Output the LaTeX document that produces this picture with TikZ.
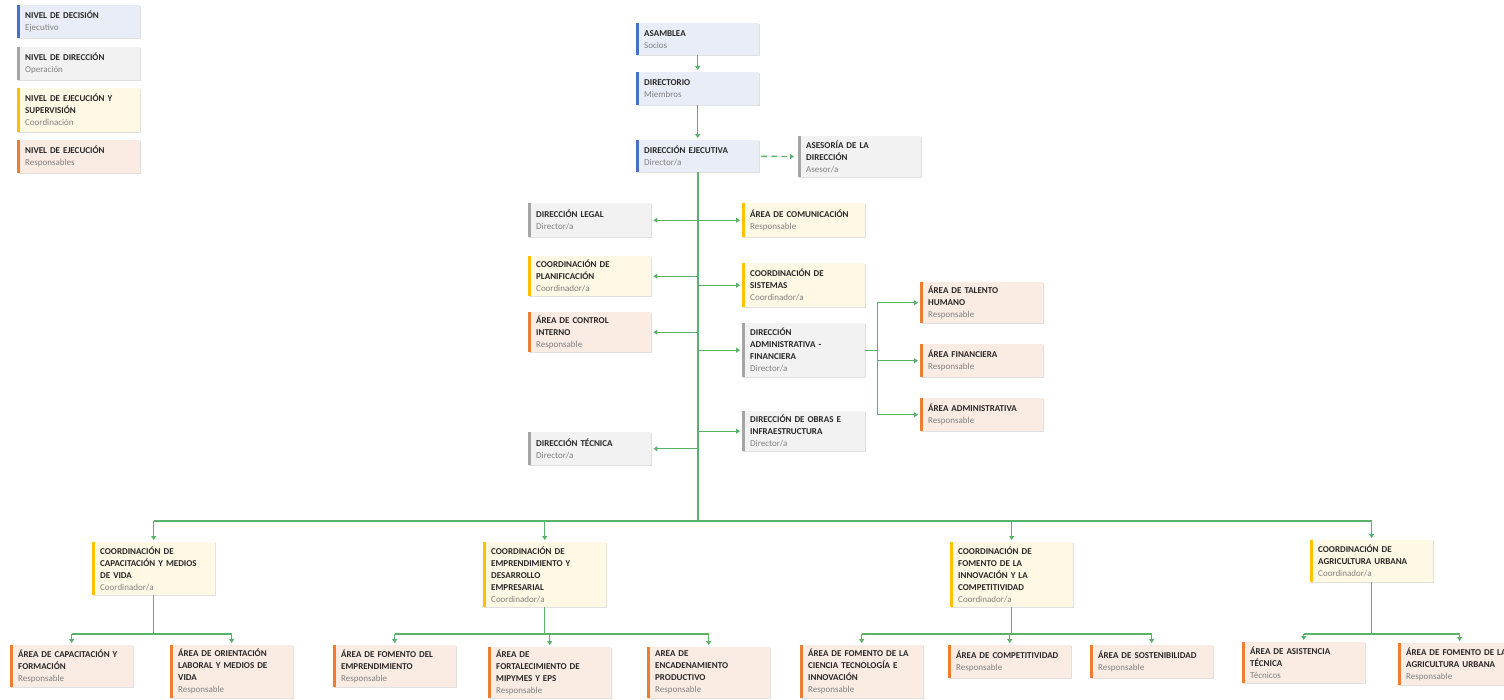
\documentclass[tikz,border=0pt]{standalone}
\usepackage{fontspec}
\setmainfont{Carlito}
\usetikzlibrary{arrows.meta,shadows}
\begin{document}
\begin{tikzpicture}[x=1pt,y=1pt]
\definecolor{decfill}{RGB}{232,237,247}
\definecolor{decbar}{RGB}{68,114,196}
\definecolor{dirfill}{RGB}{242,242,242}
\definecolor{dirbar}{RGB}{165,165,165}
\definecolor{supfill}{RGB}{255,248,229}
\definecolor{supbar}{RGB}{255,192,0}
\definecolor{exefill}{RGB}{251,236,227}
\definecolor{exebar}{RGB}{237,125,49}
\definecolor{linkgreen}{RGB}{88,178,104}
\definecolor{titlegray}{RGB}{40,40,40}
\definecolor{subgray}{RGB}{128,128,128}
\tikzstyle{orgbox}=[anchor=north west,inner xsep=8pt,inner ysep=2pt,text width=107pt,align=left,font=\fontsize{9}{12}\selectfont,text=titlegray,general shadow={fill=black,opacity=0.12,shadow xshift=0.8pt,shadow yshift=-0.8pt}]
\tikzstyle{decision}=[orgbox,fill=decfill,path picture={\fill[decbar] (path picture bounding box.north west) rectangle ([xshift=3pt]path picture bounding box.south west);}]
\tikzstyle{direction}=[orgbox,fill=dirfill,path picture={\fill[dirbar] (path picture bounding box.north west) rectangle ([xshift=3pt]path picture bounding box.south west);}]
\tikzstyle{supervision}=[orgbox,fill=supfill,path picture={\fill[supbar] (path picture bounding box.north west) rectangle ([xshift=3pt]path picture bounding box.south west);}]
\tikzstyle{execution}=[orgbox,fill=exefill,path picture={\fill[exebar] (path picture bounding box.north west) rectangle ([xshift=3pt]path picture bounding box.south west);}]
\tikzstyle{link}=[linkgreen,line width=1.4pt]
\tikzstyle{trunk}=[linkgreen,line width=2pt]
\tikzstyle{arrow}=[link,-{Triangle[width=5pt,length=4pt]},shorten >=2pt]
\tikzstyle{advice}=[arrow,dash pattern=on 6pt off 4pt,shorten >=4pt,shorten <=2pt]
\newcommand{\orgtext}[2]{{\bfseries #1}\\\textcolor{subgray}{#2}}
\useasboundingbox (0,0) rectangle (1504,-699);
% legend
\node[decision,minimum height=33] (leg1) at (17,-5) {\orgtext{NIVEL DE DECISIÓN}{Ejecutivo}};
\node[direction,minimum height=33] (leg2) at (17,-47) {\orgtext{NIVEL DE DIRECCIÓN}{Operación}};
\node[supervision,minimum height=44] (leg3) at (17,-88) {\orgtext{NIVEL DE EJECUCIÓN Y\\SUPERVISIÓN}{Coordinación}};
\node[execution,minimum height=33] (leg4) at (17,-140) {\orgtext{NIVEL DE EJECUCIÓN}{Responsables}};
% top
\node[decision,minimum height=32] (asamblea) at (636,-23) {\orgtext{ASAMBLEA}{Socios}};
\node[decision,minimum height=33] (directorio) at (636,-72) {\orgtext{DIRECTORIO}{Miembros}};
\node[decision,minimum height=32] (ejecutiva) at (636,-140) {\orgtext{DIRECCIÓN EJECUTIVA}{Director/a}};
\node[direction,minimum height=41] (asesoria) at (798,-136) {\orgtext{ASESORÍA DE LA\\DIRECCIÓN}{Asesor/a}};
% left side
\node[direction,minimum height=34] (legal) at (528,-203) {\orgtext{DIRECCIÓN LEGAL}{Director/a}};
\node[supervision,minimum height=40] (planificacion) at (528,-256) {\orgtext{COORDINACIÓN DE\\PLANIFICACIÓN}{Coordinador/a}};
\node[execution,minimum height=40] (control) at (528,-312) {\orgtext{ÁREA DE CONTROL\\INTERNO}{Responsable}};
\node[direction,minimum height=33] (tecnica) at (528,-432) {\orgtext{DIRECCIÓN TÉCNICA}{Director/a}};
% right side
\node[supervision,minimum height=34] (comunicacion) at (742,-203) {\orgtext{ÁREA DE COMUNICACIÓN}{Responsable}};
\node[supervision,minimum height=44] (sistemas) at (742,-263) {\orgtext{COORDINACIÓN DE\\SISTEMAS}{Coordinador/a}};
\node[direction,minimum height=54] (admfin) at (742,-323) {\orgtext{DIRECCIÓN\\ADMINISTRATIVA -\\FINANCIERA}{Director/a}};
\node[direction,minimum height=40] (obras) at (742,-411) {\orgtext{DIRECCIÓN DE OBRAS E\\INFRAESTRUCTURA}{Director/a}};
\node[execution,minimum height=41] (talento) at (920,-282) {\orgtext{ÁREA DE TALENTO\\HUMANO}{Responsable}};
\node[execution,minimum height=33] (areafin) at (920,-344) {\orgtext{ÁREA FINANCIERA}{Responsable}};
\node[execution,minimum height=33] (areaadm) at (920,-398) {\orgtext{ÁREA ADMINISTRATIVA}{Responsable}};
% coordinations
\node[supervision,minimum height=53] (capacitacion) at (92,-542) {\orgtext{COORDINACIÓN DE\\CAPACITACIÓN Y MEDIOS\\DE VIDA}{Coordinador/a}};
\node[supervision,minimum height=65] (emprendimiento) at (483,-542) {\orgtext{COORDINACIÓN DE\\EMPRENDIMIENTO Y\\DESARROLLO\\EMPRESARIAL}{Coordinador/a}};
\node[supervision,minimum height=65] (innovacion) at (950,-542) {\orgtext{COORDINACIÓN DE\\FOMENTO DE LA\\INNOVACIÓN Y LA\\COMPETITIVIDAD}{Coordinador/a}};
\node[supervision,minimum height=42] (agricultura) at (1310,-540) {\orgtext{COORDINACIÓN DE\\AGRICULTURA URBANA}{Coordinador/a}};
% areas
\node[execution,minimum height=42] (formacion) at (10,-645) {\orgtext{ÁREA DE CAPACITACIÓN Y\\FORMACIÓN}{Responsable}};
\node[execution,minimum height=53] (orientacion) at (170,-645) {\orgtext{ÁREA DE ORIENTACIÓN\\LABORAL Y MEDIOS DE\\VIDA}{Responsable}};
\node[execution,minimum height=42] (fomentoemp) at (333,-645) {\orgtext{ÁREA DE FOMENTO DEL\\EMPRENDIMIENTO}{Responsable}};
\node[execution,minimum height=51] (fortalecimiento) at (488,-647) {\orgtext{ÁREA DE\\FORTALECIMIENTO DE\\MIPYMES Y EPS}{Responsable}};
\node[execution,minimum height=51] (encadenamiento) at (647,-647) {\orgtext{AREA DE\\ENCADENAMIENTO\\PRODUCTIVO}{Responsable}};
\node[execution,minimum height=53] (ciencia) at (800,-645) {\orgtext{ÁREA DE FOMENTO DE LA\\CIENCIA TECNOLOGÍA E\\INNOVACIÓN}{Responsable}};
\node[execution,minimum height=33] (competitividad) at (948,-645) {\orgtext{ÁREA DE COMPETITIVIDAD}{Responsable}};
\node[execution,minimum height=33] (sostenibilidad) at (1090,-645) {\orgtext{ÁREA DE SOSTENIBILIDAD}{Responsable}};
\node[execution,minimum height=41] (asistencia) at (1242,-642) {\orgtext{ÁREA DE ASISTENCIA\\TÉCNICA}{Técnicos}};
\node[execution,minimum height=42] (fomentoagr) at (1398,-643) {\orgtext{ÁREA DE FOMENTO DE LA\\AGRICULTURA URBANA}{Responsable}};
% connectors
\coordinate (bus) at (697,-521);
\coordinate (row) at (0,-634);
\draw[arrow] (asamblea) -- (directorio);
\draw[arrow] (directorio) -- (ejecutiva);
\draw[advice] (ejecutiva) -- (asesoria);
\draw[trunk] (ejecutiva) -- (ejecutiva.south |- bus);
\draw[arrow] (ejecutiva.south |- legal.east) -- (legal);
\draw[arrow] (ejecutiva.south |- comunicacion.west) -- (comunicacion);
\draw[arrow] (ejecutiva.south |- planificacion.east) -- (planificacion);
\draw[arrow] (ejecutiva.south |- sistemas.west) -- (sistemas);
\draw[arrow] (ejecutiva.south |- control.east) -- (control);
\draw[arrow] (ejecutiva.south |- admfin.west) -- (admfin);
\draw[arrow] (ejecutiva.south |- obras.west) -- (obras);
\draw[arrow] (ejecutiva.south |- tecnica.east) -- (tecnica);
\draw[link] (admfin.east) -- ++(12,0) coordinate (split);
\draw[link] (split |- talento.west) -- (split |- areaadm.west);
\draw[arrow] (split |- talento.west) -- (talento);
\draw[arrow] (split |- areafin.west) -- (areafin);
\draw[arrow] (split |- areaadm.west) -- (areaadm);
\draw[trunk] (capacitacion.north |- bus) -- (agricultura.north |- bus);
\draw[arrow] (capacitacion.north |- bus) -- (capacitacion);
\draw[arrow] (emprendimiento.north |- bus) -- (emprendimiento);
\draw[arrow] (innovacion.north |- bus) -- (innovacion);
\draw[arrow] (agricultura.north |- bus) -- (agricultura);
\draw[link] (capacitacion) -- (capacitacion.south |- row);
\draw[link] (formacion.north |- row) -- (orientacion.north |- row);
\draw[arrow] (formacion.north |- row) -- (formacion);
\draw[arrow] (orientacion.north |- row) -- (orientacion);
\draw[link] (emprendimiento) -- (emprendimiento.south |- row);
\draw[link] (fomentoemp.north |- row) -- (encadenamiento.north |- row);
\draw[arrow] (fomentoemp.north |- row) -- (fomentoemp);
\draw[arrow] (fortalecimiento.north |- row) -- (fortalecimiento);
\draw[arrow] (encadenamiento.north |- row) -- (encadenamiento);
\draw[link] (innovacion) -- (innovacion.south |- row);
\draw[link] (ciencia.north |- row) -- (sostenibilidad.north |- row);
\draw[arrow] (ciencia.north |- row) -- (ciencia);
\draw[arrow] (competitividad.north |- row) -- (competitividad);
\draw[arrow] (sostenibilidad.north |- row) -- (sostenibilidad);
\draw[link] (agricultura) -- (agricultura.south |- row);
\draw[link] (asistencia.north |- row) -- (fomentoagr.north |- row);
\draw[arrow] (asistencia.north |- row) -- (asistencia);
\draw[arrow] (fomentoagr.north |- row) -- (fomentoagr);
\end{tikzpicture}
\end{document}
